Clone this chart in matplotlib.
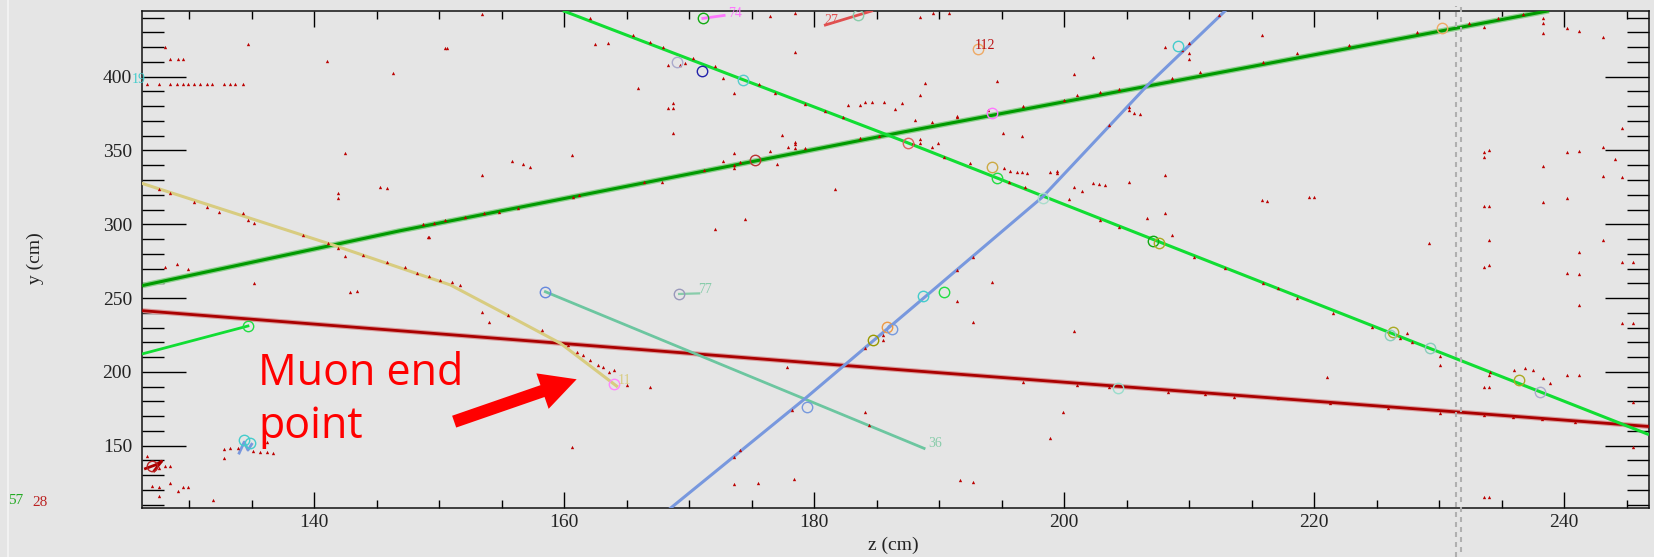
import matplotlib
matplotlib.use("Agg")
import matplotlib.pyplot as plt
from matplotlib.ticker import MultipleLocator
from matplotlib.lines import Line2D

# ---------------- event data (z, y in cm) ----------------
# reconstructed tracks, given as vertices along each trajectory
trk_dkgreen_z = [126.2, 146.8, 186.8, 238.8]
trk_dkgreen_y = [258.4, 295.5, 362.0, 444.7]

trk_green_z = [159.9, 186.8, 219.2, 246.8]
trk_green_y = [444.7, 357.5, 249.5, 157.5]

trk_green_short_z = [126.2, 134.7]
trk_green_short_y = [212.1, 231.1]

trk_red_z = [126.2, 186.8, 246.8]
trk_red_y = [241.5, 201.5, 163.0]

trk_muon_z = [126.2, 141.5, 150.9, 155.2, 159.7, 164.2]
trk_muon_y = [327.8, 286.0, 258.9, 239.7, 219.4, 190.4]

trk_teal_z = [158.5, 188.8]
trk_teal_y = [254.3, 148.2]

trk_blue_z = [168.5, 179.3, 188.9, 198.3, 206.7, 212.9]
trk_blue_y = [107.6, 182.1, 251.0, 318.7, 394.4, 444.7]

stub74_z = [171.1, 172.8]
stub74_y = [439.5, 441.5]
stub27_z = [180.9, 184.6]
stub27_y = [435.0, 444.5]
stub77_z = [169.2, 170.8]
stub77_y = [252.8, 253.2]
stub_blue_z = [134.0, 134.4, 134.7, 135.0]
stub_blue_y = [145.0, 152.5, 147.0, 151.0]
stub_red_z = [126.5, 127.3, 127.8, 127.2]
stub_red_y = [134.5, 137.0, 139.5, 133.0]

# vertices / track end points (open circles)
vtx_z = [134.7, 134.4, 134.9, 127.0, 171.0, 169.0, 174.3, 175.3, 158.5, 169.2,
         164.0, 179.4, 184.7, 185.8, 186.2, 188.7, 190.4, 187.5, 194.2, 194.2,
         194.6, 198.3, 209.1, 207.1, 207.6, 230.2, 193.1, 204.3, 226.3, 226.1,
         229.3, 236.4, 238.1, 171.1, 183.5]
vtx_y = [231.1, 153.9, 151.5, 136.3, 403.9, 410.2, 397.8, 343.6, 254.3, 252.8,
         192.0, 176.4, 221.6, 230.2, 229.0, 251.2, 254.3, 354.9, 375.2, 339.0,
         331.2, 317.6, 420.8, 288.9, 287.1, 432.8, 418.5, 188.9, 227.2, 225.0,
         216.0, 194.5, 186.6, 439.5, 441.8]
vtx_c = ['#22dd44', '#44cccc', '#44cccc', '#bb2222', '#2222aa', '#aaaacc', '#55cccc', '#bb3333', '#6688dd', '#9999bb',
         '#ff88ff', '#7799dd', '#999900', '#ee9944', '#7799dd', '#44cccc', '#22dd44', '#e06060', '#ff77ff', '#ccaa44',
         '#22dd44', '#aaddcc', '#44cccc', '#11aa11', '#aaaa22', '#eeaa66', '#eeaa66', '#99ddcc', '#aaaa22', '#88ccbb',
         '#88ccbb', '#aaaa22', '#aaaacc', '#11aa11', '#88ccaa']

# reconstructed hits
hit_z = [128.1, 128.5, 129.1, 129.5, 126.6, 127.6, 128.5, 129.0, 129.5, 129.9, 130.4, 130.9, 131.4, 131.8,
         132.8, 133.3, 133.7, 134.3, 134.7, 141.05, 146.3, 150.6, 142.5, 141.9, 141.9, 145.3, 145.8, 149.2,
         128.1, 129.05, 129.9, 135.2, 142.9, 143.4,
         126.6, 127.6, 128.1, 128.5, 127.0, 127.6, 128.5, 129.1, 129.5, 129.9, 127.6, 131.9,
         132.8, 132.8, 133.3, 133.9, 135.1, 135.7, 136.2, 136.7, 136.2,
         153.4, 150.5, 162.5, 163.5, 165.9, 168.3, 168.7, 168.7, 168.7, 168.3, 169.3, 169.7, 172.7, 173.6,
         176.5, 178.5, 178.5, 182.7, 183.7, 184.1, 184.6, 185.6, 186.5, 177.4, 177.9, 178.5, 178.5, 179.3,
         173.6, 173.6, 172.7, 174.1, 177.0, 181.7, 174.5, 172.1, 160.6, 155.8, 156.7, 157.3, 153.4, 149.1, 162.1,
         153.4, 154.0, 163.6, 164.0, 165.0, 166.9, 160.6, 173.6, 175.5, 178.4, 184.1, 184.4, 177.8,
         188.5, 189.5, 190.8, 187.0, 188.5, 188.9, 194.6, 202.3, 200.8, 215.8, 195.1, 196.6, 188.5, 188.5,
         189.4, 189.9, 191.4, 195.2, 195.7, 196.2, 196.6, 197.0, 198.9, 199.4, 200.8, 201.4, 202.3, 202.8,
         203.3, 205.2, 208.1, 200.4, 206.6, 208.1, 208.6, 194.2, 215.8, 216.2, 219.6, 220.0, 205.2, 205.6,
         206.1, 208.1, 210.0, 210.0, 210.0, 229.2, 233.6, 238.3, 238.3, 238.3, 240.2, 241.2, 243.1, 244.6,
         233.6, 234.0, 233.6, 240.2, 241.2, 243.1, 238.3, 244.1, 243.1, 244.6, 233.6, 234.0, 238.3, 240.2,
         234.0, 243.1, 241.2, 244.6, 245.5, 233.6, 234.0, 240.2, 241.2,
         191.4, 192.7, 200.8, 199.9, 198.9, 191.7, 192.7, 221.0, 227.4, 230.1, 230.1, 233.6, 234.0, 236.0,
         236.9, 237.5, 238.3, 238.9, 240.2, 241.2, 241.2, 244.6, 245.5, 245.5, 245.5, 233.6, 234.0, 234.1,
         # hits along the stopping muon
         127.6, 128.5, 130.4, 131.4, 132.4, 134.3, 134.7, 135.2, 139.1, 141.1, 141.9, 142.5, 143.9, 145.8,
         147.3, 148.2, 149.2, 150.1, 151.0, 151.7, 155.5, 158.2, 160.3, 161.0, 161.5, 162.1, 162.7, 163.1,
         # hits along the long tracks
         148.7, 149.6, 150.5, 152.1, 153.6, 154.8, 156.3, 160.7, 161.2, 166.4, 167.8, 171.2, 173.6, 176.5,
         178.5, 183.7, 185.2, 188.1, 189.4, 191.4, 193.9, 196.7, 200.0, 201.0, 202.9, 204.4, 208.6, 210.9,
         215.9, 218.6, 222.8, 228.2, 232.4, 234.7, 236.7,
         217.1, 218.6, 221.5, 224.6, 226.9, 227.8, 234.0, 165.5, 166.9, 167.9, 170.3, 172.1, 175.6, 176.9,
         179.3, 180.9, 182.3, 187.9, 190.4, 192.5, 195.6, 196.9, 202.9, 204.4, 210.4, 212.9, 215.9,
         196.7, 201.0, 203.6, 208.3, 211.3, 213.6, 217.1, 221.3, 225.9, 230.1, 233.6, 235.9, 238.2, 240.9,
         173.6, 174.1, 178.2, 184.1, 185.5, 185.5, 191.4, 192.7, 199.4, 203.6, 205.2, 209.4, 212.4]
hit_y = [419.9, 412.0, 412.0, 412.0, 394.8, 394.8, 394.8, 394.8, 394.8, 394.8, 394.8, 394.8, 394.8, 394.8,
         394.8, 394.8, 394.8, 394.8, 421.9, 410.4, 402.5, 419.2, 348.0, 321.0, 317.6, 325.5, 324.8, 291.4,
         271.3, 272.9, 269.7, 260.0, 253.9, 254.6,
         143.0, 134.7, 136.5, 136.5, 122.9, 121.8, 124.5, 119.5, 121.8, 121.8, 115.9, 113.2,
         147.5, 141.4, 148.2, 148.2, 146.6, 145.5, 145.5, 144.8, 152.3,
         442.2, 419.2, 421.9, 422.6, 392.1, 379.0, 381.9, 379.0, 361.6, 407.9, 407.9, 409.0, 398.9, 388.7,
         441.1, 442.9, 416.9, 380.8, 380.8, 383.1, 383.1, 383.1, 377.9, 360.5, 352.6, 356.0, 351.4, 351.4,
         348.5, 337.9, 343.1, 342.4, 340.6, 323.7, 303.6, 296.6, 346.7, 343.1, 340.6, 338.6, 333.4, 291.1, 439.5,
         240.8, 234.0, 200.2, 201.3, 191.1, 189.5, 149.3, 124.1, 124.9, 127.2, 173.1, 164.0, 203.1,
         440.2, 443.4, 443.4, 382.4, 387.6, 395.5, 397.3, 413.1, 401.8, 428.2, 361.6, 359.8, 357.5, 355.3,
         352.1, 355.3, 373.4, 337.9, 336.3, 335.4, 335.2, 334.5, 335.6, 336.3, 325.5, 322.8, 327.7, 327.3,
         326.6, 328.9, 333.4, 316.9, 304.0, 307.4, 292.7, 261.1, 316.4, 316.0, 318.7, 318.7, 377.4, 375.2,
         374.7, 419.9, 423.0, 415.8, 411.7, 287.5, 433.9, 439.5, 436.6, 429.4, 432.7, 431.2, 426.7, 365.0,
         349.2, 350.3, 345.8, 349.2, 349.9, 352.6, 339.7, 344.0, 332.7, 331.8, 312.4, 312.4, 315.3, 317.6,
         289.3, 289.3, 281.0, 274.7, 274.7, 271.3, 272.2, 267.2, 266.1,
         248.3, 233.6, 228.0, 172.6, 155.0, 126.8, 125.6, 196.8, 226.6, 210.8, 204.7, 189.5, 189.5, 201.3,
         202.4, 201.3, 196.1, 192.2, 197.9, 197.9, 245.3, 233.4, 233.4, 179.4, 148.9, 115.0, 115.0, 200.2,
         323.9, 321.4, 314.9, 311.9, 308.5, 307.4, 302.9, 301.1, 292.7, 287.1, 283.7, 278.5, 279.2, 274.2,
         270.8, 266.8, 265.0, 262.2, 261.1, 258.9, 238.6, 228.4, 218.2, 213.7, 211.5, 208.1, 204.7, 203.1,
         300.2, 301.1, 302.9, 304.7, 307.4, 308.5, 310.8, 318.7, 319.8, 328.9, 328.9, 336.8, 340.2, 349.9,
         354.4, 358.2, 359.8, 370.6, 369.5, 372.9, 377.4, 380.1, 384.2, 387.6, 389.8, 391.4, 398.9, 403.4,
         410.2, 415.8, 421.5, 430.5, 436.1, 439.5, 442.5,
         256.6, 249.8, 239.7, 230.6, 222.7, 220.5, 197.9, 428.2, 423.7, 420.3, 412.4, 407.2, 395.0, 389.2,
         381.5, 377.0, 372.4, 354.8, 345.8, 341.7, 328.9, 325.5, 302.9, 298.4, 278.0, 270.1, 260.0,
         193.4, 191.1, 190.0, 186.6, 185.0, 183.2, 182.1, 178.7, 175.8, 172.4, 170.8, 169.7, 167.9, 166.3,
         142.6, 147.1, 174.2, 216.0, 221.6, 225.0, 269.0, 278.0, 334.5, 367.3, 379.7, 418.1, 441.8]

# track / cluster id labels: (text, z, y, colour)
id_text = ['19', '74', '27', '112', '77', '36', '11']
id_z = [126.0, 173.7, 181.4, 193.7, 171.3, 189.7, 164.8]
id_y = [398.2, 442.8, 437.9, 421.4, 255.5, 151.6, 194.5]
id_col = ['#44cccc', '#ff77ff', '#e05050', '#bb1111', '#88ccaa', '#88ccaa', '#d8cc80']

x_ticks = [140, 160, 180, 200, 220, 240]
y_ticks = [150, 200, 250, 300, 350, 400]

# ---------------- figure ----------------
W, H, DPI = 1654, 557, 100
BG = '#e5e5e5'
SERIF = ['Liberation Serif', 'DejaVu Serif']
plt.rcParams['lines.scale_dashes'] = False

fig = plt.figure(figsize=(W / DPI, H / DPI), dpi=DPI, facecolor=BG)
ax = fig.add_axes([141.7 / W, 1 - 508.3 / H, (1649 - 141.7) / W, (508.3 - 10.7) / H])
ax.set_facecolor(BG)
ax.set_xlim(126.2, 246.8)
ax.set_ylim(107.6, 444.7)

for s in ax.spines.values():
    s.set_linewidth(1.1)
    s.set_color('#111111')

ax.set_xticks(x_ticks)
ax.set_yticks(y_ticks)
ax.xaxis.set_minor_locator(MultipleLocator(5))
ax.yaxis.set_minor_locator(MultipleLocator(10))
ax.tick_params(axis='x', which='major', direction='in', length=11.5, width=1.0,
               top=True, bottom=True, labelsize=14, pad=4, labelcolor='#222222')
ax.tick_params(axis='x', which='minor', direction='in', length=5.8, width=1.0, top=True, bottom=True)
ax.tick_params(axis='y', which='major', direction='in', length=32, width=1.0,
               left=True, right=True, labelsize=14, pad=7, labelcolor='#222222')
ax.tick_params(axis='y', which='minor', direction='in', length=16, width=1.0, left=True, right=True)
for lab in ax.get_xticklabels() + ax.get_yticklabels():
    lab.set_family(SERIF)

# tracks
ax.plot(trk_dkgreen_z, trk_dkgreen_y, color='#8fcf8f', lw=4.0, solid_capstyle='butt', zorder=2)
ax.plot(trk_dkgreen_z, trk_dkgreen_y, color='#009a00', lw=2.2, solid_capstyle='butt', zorder=3)
ax.plot(trk_red_z, trk_red_y, color='#d99a9a', lw=3.6, solid_capstyle='butt', zorder=2)
ax.plot(trk_red_z, trk_red_y, color='#aa0000', lw=2.0, solid_capstyle='butt', zorder=3)
ax.plot(trk_green_z, trk_green_y, color='#11dd33', lw=2.2, solid_capstyle='butt', zorder=3)
ax.plot(trk_green_short_z, trk_green_short_y, color='#11dd33', lw=2.0, zorder=3)
ax.plot(trk_muon_z, trk_muon_y, color='#d8cc80', lw=2.2, zorder=3)
ax.plot(trk_teal_z, trk_teal_y, color='#6cc6a0', lw=2.0, zorder=3)
ax.plot(trk_blue_z, trk_blue_y, color='#7898de', lw=2.2, zorder=3)
ax.plot(stub74_z, stub74_y, color='#ff77ff', lw=2.0, zorder=3)
ax.plot(stub27_z, stub27_y, color='#e05050', lw=2.0, zorder=3)
ax.plot(stub77_z, stub77_y, color='#88ccaa', lw=1.6, zorder=3)
ax.plot(stub_blue_z, stub_blue_y, color='#7898de', lw=2.0, zorder=3)
ax.plot(stub_red_z, stub_red_y, color='#aa0000', lw=2.0, zorder=3)

# hits
ax.plot(hit_z, hit_y, ls='none', marker='^', ms=2.4, mec='none', mfc='#bb0000', zorder=4)

# vertices
for z, y, c in zip(vtx_z, vtx_y, vtx_c):
    ax.plot([z], [y], ls='none', marker='o', ms=7.5, mfc='none', mec=c, mew=1.0, zorder=5)

# id labels
for t, z, y, c in zip(id_text, id_z, id_y, id_col):
    ax.text(z, y, t, color=c, fontsize=10, family=SERIF, ha='center', va='center',
            clip_on=False, zorder=6)

# annotation
ax.text(135.5, 191.1, 'Muon end', color='#ff0000', fontsize=31, family=['Open Sans', 'DejaVu Sans'],
        ha='left', va='baseline', zorder=7)
ax.text(135.5, 155.3, 'point', color='#ff0000', fontsize=31, family=['Open Sans', 'DejaVu Sans'],
        ha='left', va='baseline', zorder=7)
ax.annotate('', xy=(161.0, 195.0), xytext=(151.2, 166.3),
            arrowprops=dict(arrowstyle='simple,head_length=2.6,head_width=2.7,tail_width=0.9',
                            mutation_scale=10, color='#ff0000', shrinkA=0, shrinkB=0, lw=0),
            zorder=7)

# axis titles
fig.text(35 / W, 1 - 258 / H, 'y (cm)', rotation=90, ha='center', va='center',
         fontsize=14, family=SERIF, color='#222222')
fig.text(893 / W, 1 - 545 / H, 'z (cm)', ha='center', va='center',
         fontsize=14, family=SERIF, color='#222222')

# readout labels outside the frame
fig.text(8 / W, 1 - 500 / H, '57', ha='left', va='center', fontsize=11, family=SERIF, color='#22aa22')
fig.text(32 / W, 1 - 502 / H, '28', ha='left', va='center', fontsize=11, family=SERIF, color='#bb2222')

# window border on the left
fig.add_artist(Line2D([8 / W, 8 / W], [0, 1], transform=fig.transFigure, color='#f4f4f4', lw=1.3))

# module boundary (double dashed line, staggered dashes)
for xp, off in ((1456.3, 0.0), (1461.0, 3.6)):
    fig.add_artist(Line2D([xp / W, xp / W], [0, 1 - 6 / H], transform=fig.transFigure,
                          color='#b0b0b0', lw=1.5, linestyle=(off, (3.6, 3.6)),
                          dash_capstyle='butt'))

fig.savefig('out.png', dpi=DPI, facecolor=BG)
